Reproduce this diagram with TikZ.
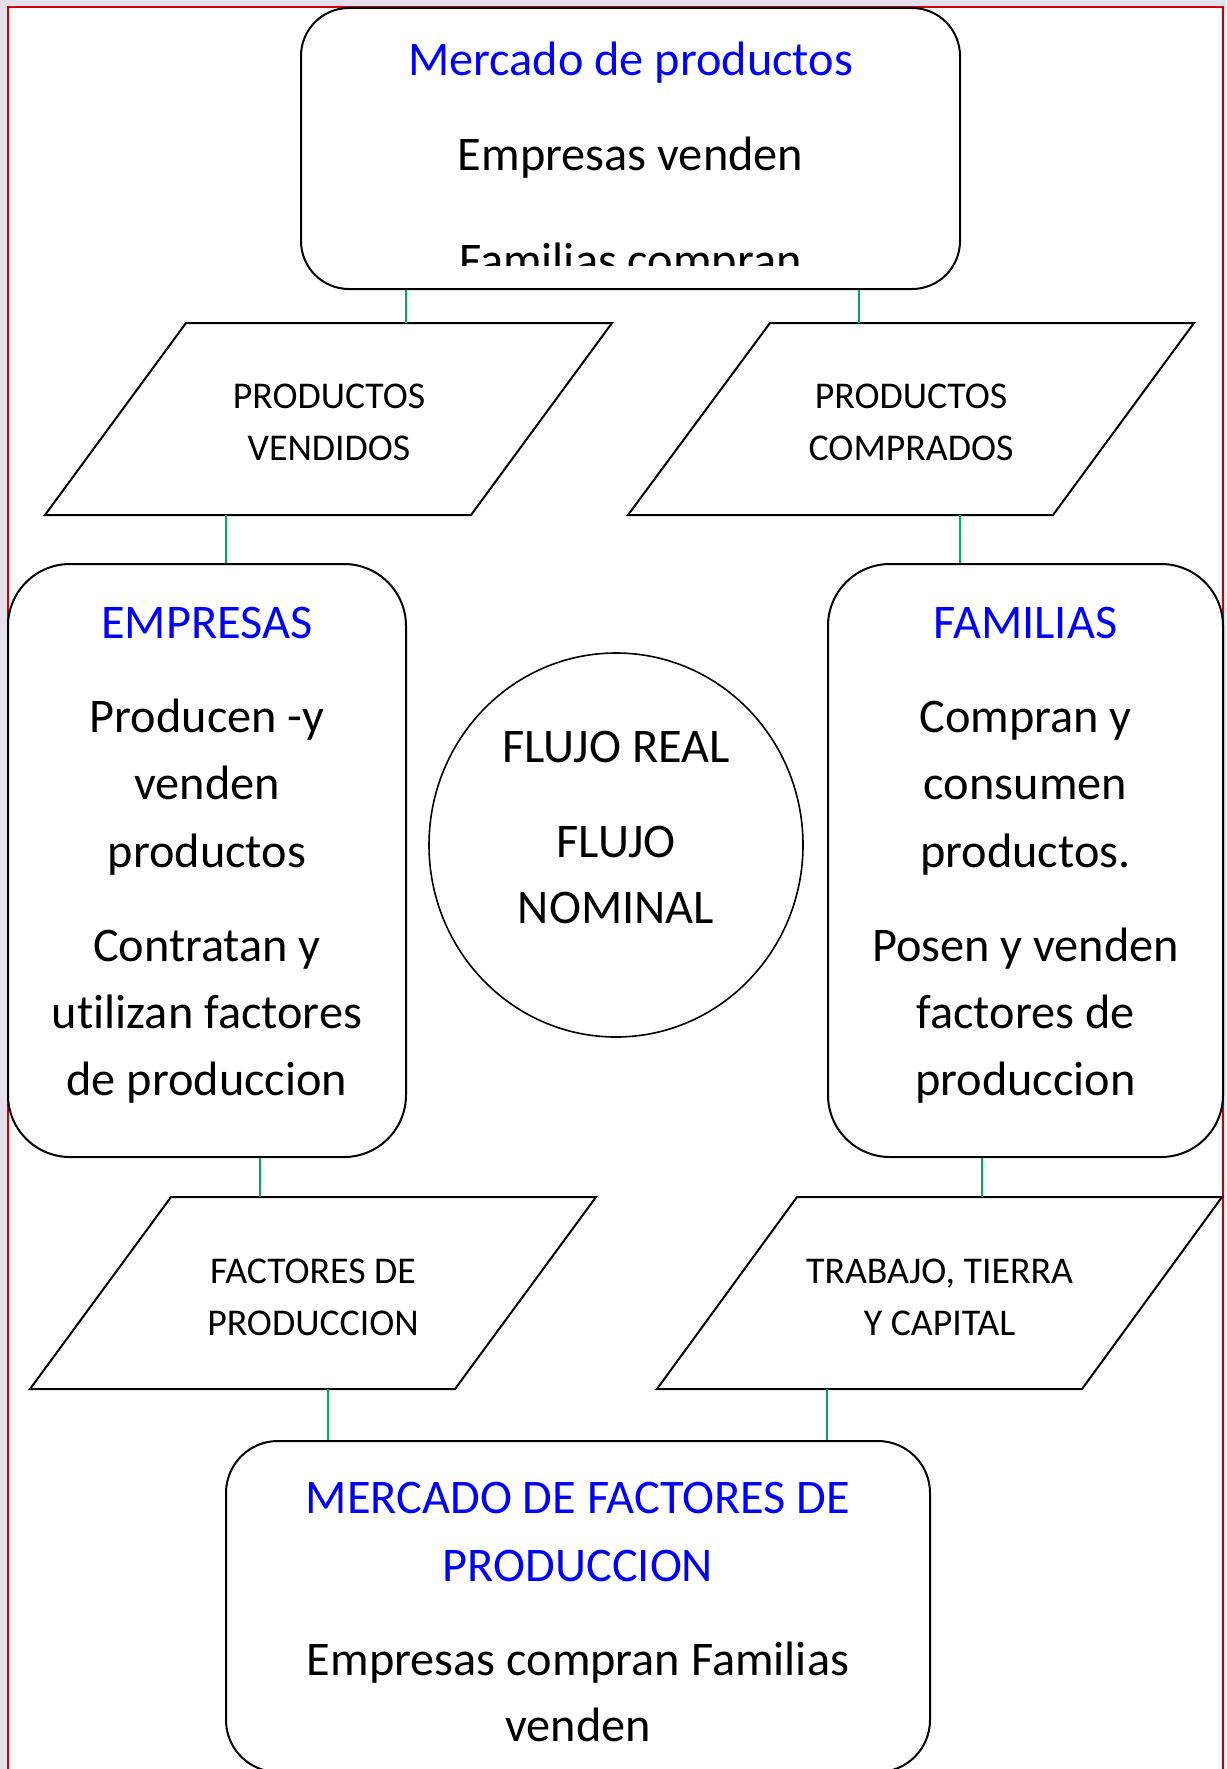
\documentclass[tikz,border=0pt]{standalone}
\usepackage{fontspec}
\setmainfont[Ligatures={NoCommon}]{Carlito}
\usetikzlibrary{shapes.geometric}
\definecolor{bgl}{RGB}{230,224,236}
\definecolor{bred}{RGB}{204,0,0}
\definecolor{cgreen}{RGB}{0,176,80}
\begin{document}
\begin{tikzpicture}[x=1pt,y=-1pt,
  rbox/.style={draw=black, line width=2pt, fill=white, inner sep=0pt},
  para/.style={draw=black, line width=2pt, fill=white, line join=miter},
  conn/.style={draw=cgreen, line width=1.6pt},
  big/.style={anchor=base, inner sep=0pt, font=\fontsize{48.3}{56}\selectfont},
  small/.style={anchor=base, inner sep=0pt, font=\fontsize{37.8}{43}\selectfont},
  ttl/.style={big, text=blue}]
\useasboundingbox (0,0) rectangle (1226,1769);
\fill[bgl] (0,0) rectangle (1226,1769);
\fill[white] (7.5,7.5) rectangle (1223,1769);
\draw[bred, line width=2pt] (7.5,1769) -- (7.5,7.5) -- (1223,7.5) -- (1223,1769);

% rounded boxes
\node[rbox, rounded corners=48pt, minimum width=659pt, minimum height=281pt] (mprod) at (630.5,148.5) {};
\node[rbox, rounded corners=62pt, minimum width=398pt, minimum height=593pt] (emp) at (207,860.5) {};
\node[rbox, rounded corners=62pt, minimum width=395pt, minimum height=593pt] (fam) at (1025.5,860.5) {};
\node[rbox, rounded corners=52pt, minimum width=704pt, minimum height=331pt] (mfac) at (578,1606.5) {};
\node[draw=black, line width=1.6pt, ellipse, inner sep=0pt, minimum width=374pt, minimum height=384pt] (flujo) at (616,845) {};

% parallelograms
\draw[para] (186,323) -- (612,323) -- (471,515) -- (45,515) -- cycle;
\draw[para] (770,323) -- (1194,323) -- (1053,515) -- (628,515) -- cycle;
\draw[para] (171,1197) -- (596,1197) -- (455,1389) -- (30,1389) -- cycle;
\draw[para] (797,1197) -- (1222,1197) -- (1082,1389) -- (657,1389) -- cycle;

% connector ends
\coordinate (c1) at (406,323);
\coordinate (c2) at (859,323);
\coordinate (c3) at (226,515);
\coordinate (c4) at (960,515);
\coordinate (c5) at (260,1197);
\coordinate (c6) at (982,1197);
\coordinate (c7) at (328,1389);
\coordinate (c8) at (827,1389);
\draw[conn] (mprod.south -| c1) -- (c1);
\draw[conn] (mprod.south -| c2) -- (c2);
\draw[conn] (c3) -- (emp.north -| c3);
\draw[conn] (c4) -- (fam.north -| c4);
\draw[conn] (emp.south -| c5) -- (c5);
\draw[conn] (fam.south -| c6) -- (c6);
\draw[conn] (c7) -- (mfac.north -| c7);
\draw[conn] (c8) -- (mfac.north -| c8);

% top box text (clipped)
\begin{scope}
\clip (301,8) rectangle (960,265);
\node[ttl] (tmp1) at (630.5,76) {Mercado de productos};
\node[big] (tmp2) at (630.5,170) {Empresas venden};
\node[big] (tmp3) at (630.5,276) {Familias compran};
\end{scope}

% parallelogram texts
\node[small] (p1a) at (329,408) {PRODUCTOS};
\node[small] (p1b) at (329,460) {VENDIDOS};
\node[small] (p2a) at (911,408) {PRODUCTOS};
\node[small] (p2b) at (911,460) {COMPRADOS};
\node[small] (p3a) at (313,1283) {FACTORES DE};
\node[small] (p3b) at (313,1335) {PRODUCCION};
\node[small] (p4a) at (939.5,1283) {TRABAJO, TIERRA};
\node[small] (p4b) at (939.5,1335) {Y CAPITAL};

% empresas
\node[ttl] (te0) at (207,638) {EMPRESAS};
\node[big] (te1) at (207,732) {Producen -y};
\node[big] (te2) at (207,799) {venden};
\node[big] (te3) at (207,867) {productos};
\node[big] (te4) at (207,961) {Contratan y};
\node[big] (te5) at (207,1028) {utilizan factores};
\node[big] (te6) at (207,1095) {de produccion};

% familias
\node[ttl] (tf0) at (1025.5,638) {FAMILIAS};
\node[big] (tf1) at (1025.5,732) {Compran y};
\node[big] (tf2) at (1025.5,799) {consumen};
\node[big] (tf3) at (1025.5,867) {productos.};
\node[big] (tf4) at (1025.5,961) {Posen y venden};
\node[big] (tf5) at (1025.5,1028) {factores de};
\node[big] (tf6) at (1025.5,1095) {produccion};

% circle
\node[big] (tc1) at (616,762) {FLUJO REAL};
\node[big] (tc2) at (616,857) {FLUJO};
\node[big] (tc3) at (616,923) {NOMINAL};

% bottom box
\node[ttl] (tb1) at (578,1513) {MERCADO DE FACTORES DE};
\node[ttl] (tb2) at (578,1581) {PRODUCCION};
\node[big] (tb3) at (578,1675) {Empresas compran Familias};
\node[big] (tb4) at (578,1741) {venden};
\end{tikzpicture}
\end{document}
